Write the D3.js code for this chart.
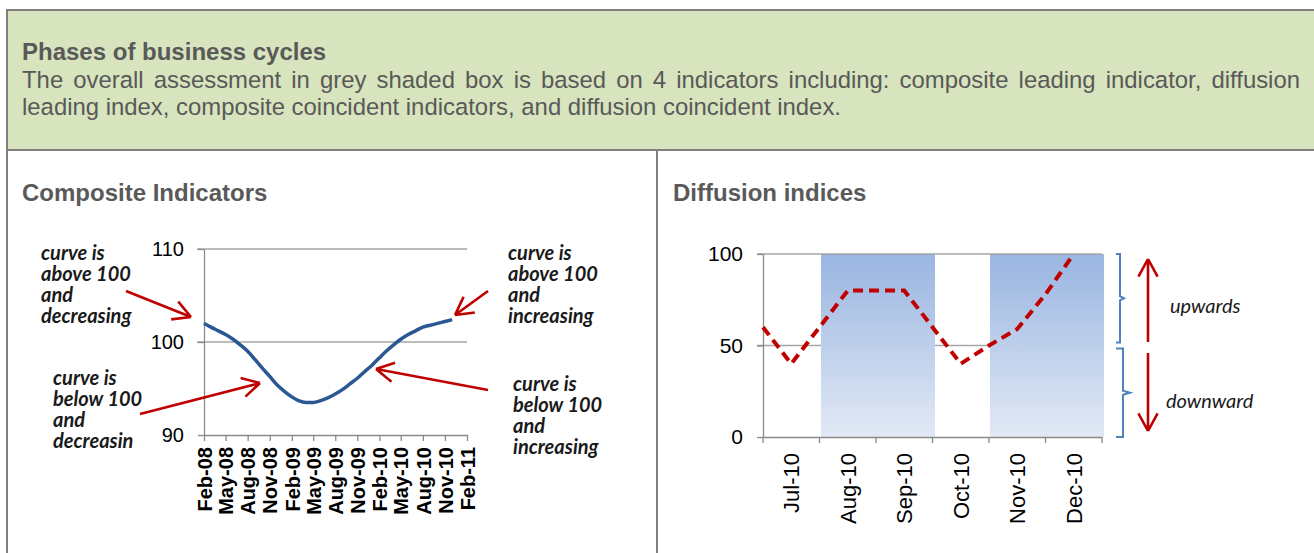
<!DOCTYPE html>
<html lang="en">
<head>
    <meta charset="UTF-8">
    <title>Phases of business cycles</title>
    <script src="https://d3js.org/d3.v7.min.js"></script>
    <style>
        body {
            margin: 0;
            background: #fff;
            font-family: "Liberation Sans", Arial, sans-serif;
        }
        .frame { stroke: #7f7f7f; stroke-width: 2px; }
        .head { fill: #595959; }
        .axis path, .axis line { stroke: #8a8a8a; stroke-width: 1.3px; }
        .axis text { fill: #000; font-family: "Liberation Sans", Arial, sans-serif; }
        .grid { stroke: #a6a6a6; stroke-width: 1.3px; }
        .note { font-family: Lato, "DejaVu Sans", sans-serif; font-size: 20px; font-style: italic; fill: #1a1a1a; }
        .red { stroke: #c00000; stroke-width: 2.6px; fill: none; }
    </style>
</head>
<body>
<svg id="page" width="1314" height="553"></svg>
<script>
    // header texts
    const title = "Phases of business cycles";
    const bodyLines = [
        "The overall assessment in grey shaded box is based on 4 indicators including: composite leading indicator, diffusion",
        "leading index, composite coincident indicators, and diffusion coincident index."
    ];
    const panelTitles = ["Composite Indicators", "Diffusion indices"];

    // composite indicator, monthly from Feb-08
    const compStart = new Date(2008, 1, 1);
    const compValues = [102.0, 101.6, 101.2, 100.8, 100.3, 99.7, 99.0, 98.1, 97.2, 96.3,
        95.4, 94.7, 94.1, 93.7, 93.5, 93.5, 93.7, 94.0, 94.4, 94.9,
        95.5, 96.1, 96.8, 97.5, 98.3, 99.0, 99.7, 100.3, 100.8, 101.2,
        101.6, 101.8, 102.0, 102.2, 102.4];
    const compTicks = [90, 100, 110];

    // diffusion index, half-month steps from start of Jul-10
    const diffMonths = ["Jul-10", "Aug-10", "Sep-10", "Oct-10", "Nov-10", "Dec-10"];
    const diffValues = [60, 40, 60, 80, 80, 80, 60, 40, 50, 59, 78, 100];
    const shadedMonths = ["Aug-10", "Sep-10", "Nov-10", "Dec-10"];
    const diffTicks = [0, 50, 100];

    const leftNotes = [
        ["curve is", "above 100", "and", "decreasing"],
        ["curve is", "below 100", "and", "decreasin"],
        ["curve is", "above 100", "and", "increasing"],
        ["curve is", "below 100", "and", "increasing"]
    ];

    const svg = d3.select("#page");

    // frame
    svg.append("rect").attr("x", 7).attr("y", 10).attr("width", 1310).attr("height", 140)
        .attr("fill", "#d7e4bd");
    svg.append("line").attr("class", "frame").attr("x1", 6).attr("x2", 1314).attr("y1", 10).attr("y2", 10);
    svg.append("line").attr("class", "frame").attr("x1", 7).attr("x2", 7).attr("y1", 10).attr("y2", 553);
    svg.append("line").attr("class", "frame").attr("x1", 6).attr("x2", 1314).attr("y1", 150).attr("y2", 150);
    svg.append("line").attr("class", "frame").attr("x1", 657).attr("x2", 657).attr("y1", 150).attr("y2", 553);

    // header
    svg.append("text").attr("class", "head").attr("x", 22).attr("y", 60)
        .style("font-size", "24px").style("font-weight", "bold").text(title);
    bodyLines.forEach((s, i) => {
        const t = svg.append("text").attr("class", "head").attr("x", 22).attr("y", 88 + i * 27)
            .style("font-size", "23.9px").text(s);
        if (i === 0) {
            const w = t.node().getComputedTextLength();
            const gaps = s.split(" ").length - 1;
            t.attr("word-spacing", (1278 - w) / gaps);
        }
    });
    panelTitles.forEach((s, i) => {
        svg.append("text").attr("class", "head").attr("x", i ? 673 : 22).attr("y", 201)
            .style("font-size", "24px").style("font-weight", "bold").text(s);
    });

    // ---- left chart: composite indicators
    const x1 = d3.scaleTime().domain([compStart, new Date(2011, 1, 1)]).range([204, 467]);
    const y1 = d3.scaleLinear().domain([90, 110]).range([435, 249]);
    const compData = compValues.map((v, i) => ({ d: d3.timeMonth.offset(compStart, i), v }));

    svg.append("g").selectAll("line").data([100, 110]).join("line")
        .attr("class", "grid").attr("x1", 197).attr("x2", 467)
        .attr("y1", d => y1(d)).attr("y2", d => y1(d));

    const yAx1 = svg.append("g").attr("class", "axis").attr("transform", "translate(204,0)")
        .call(d3.axisLeft(y1).tickValues(compTicks).tickSize(6).tickPadding(14).tickSizeOuter(0));
    yAx1.selectAll("text").style("font-size", "20px");

    const xAx1 = svg.append("g").attr("class", "axis").attr("transform", "translate(0,435)")
        .call(d3.axisBottom(x1)
            .tickValues(d3.timeMonth.range(compStart, new Date(2011, 1, 2), 3))
            .tickFormat(d3.timeFormat("%b-%y")).tickSize(6).tickSizeOuter(0));
    xAx1.selectAll("text")
        .attr("transform", "rotate(-90)").attr("x", -12).attr("y", 0).attr("dy", "0.36em")
        .style("text-anchor", "end").style("font-size", "20px").style("font-weight", "bold");

    svg.append("path").datum(compData)
        .attr("fill", "none").attr("stroke", "#2b5793").attr("stroke-width", 3.5)
        .attr("d", d3.line().x(d => x1(d.d)).y(d => y1(d.v)).curve(d3.curveMonotoneX));

    // annotation texts
    const noteSpots = [[41, 260], [53, 385], [508, 260], [513, 391]];
    leftNotes.forEach((lines, i) => {
        const t = svg.append("text").attr("class", "note").style("font-weight", "bold")
            .attr("x", noteSpots[i][0]).attr("y", noteSpots[i][1]);
        lines.forEach((s, j) => {
            t.append("tspan").attr("x", noteSpots[i][0]).attr("y", noteSpots[i][1] + j * 21).text(s);
        });
    });

    function arrow(x0, yA, x1p, yB, len = 20) {
        const a = Math.atan2(yB - yA, x1p - x0);
        const p = d3.path();
        p.moveTo(x0, yA); p.lineTo(x1p, yB);
        [-0.5, 0.5].forEach(da => {
            p.moveTo(x1p - len * Math.cos(a + da), yB - len * Math.sin(a + da));
            p.lineTo(x1p, yB);
        });
        svg.append("path").attr("class", "red").attr("d", p.toString());
    }
    arrow(126, 291, 191, 317);
    arrow(140, 414, 260, 383);
    arrow(488, 291, 455, 315);
    arrow(488, 390, 376, 369);

    // ---- right chart: diffusion indices
    const x2 = d3.scaleBand().domain(diffMonths).range([763, 1102]);
    const xs = d3.scaleLinear().domain([0, diffMonths.length]).range([763, 1102]);
    const y2 = d3.scaleLinear().domain([0, 100]).range([437, 254]);

    const grad = svg.append("defs").append("linearGradient").attr("id", "shade")
        .attr("x1", 0).attr("x2", 0).attr("y1", 0).attr("y2", 1);
    grad.append("stop").attr("offset", 0).attr("stop-color", "#99b5e1");
    grad.append("stop").attr("offset", 1).attr("stop-color", "#e2e9f5");

    svg.append("line").attr("class", "grid").attr("x1", 757).attr("x2", 1102)
        .attr("y1", y2(50)).attr("y2", y2(50));

    svg.append("g").attr("shape-rendering", "crispEdges")
        .selectAll("rect").data(shadedMonths).join("rect")
        .attr("x", d => x2(d) + 1).attr("width", x2.bandwidth() + 1)
        .attr("y", y2(100)).attr("height", y2(0) - y2(100))
        .attr("fill", "url(#shade)");

    svg.append("line").attr("class", "grid").attr("x1", 757).attr("x2", 1102)
        .attr("y1", y2(100)).attr("y2", y2(100));

    const yAx2 = svg.append("g").attr("class", "axis").attr("transform", "translate(763,0)")
        .call(d3.axisLeft(y2).tickValues(diffTicks).tickSize(6).tickPadding(14).tickSizeOuter(0));
    yAx2.selectAll("text").style("font-size", "21px");

    const xAx2 = svg.append("g").attr("class", "axis").attr("transform", "translate(0,437)")
        .call(d3.axisBottom(x2).tickSize(0).tickSizeOuter(0));
    xAx2.selectAll("text")
        .attr("transform", "rotate(-90)").attr("x", -16).attr("y", 0).attr("dy", "0.36em")
        .style("text-anchor", "end").style("font-size", "22px");
    xAx2.selectAll(".edge").data(d3.range(diffMonths.length + 1)).join("line")
        .attr("class", "edge").attr("x1", d => xs(d)).attr("x2", d => xs(d))
        .attr("y1", 0).attr("y2", 6);

    svg.append("path").datum(diffValues)
        .attr("fill", "none").attr("stroke", "#c00000").attr("stroke-width", 4)
        .attr("stroke-dasharray", "10,6")
        .attr("d", d3.line().x((d, i) => xs(i / 2)).y(d => y2(d)));

    // brackets
    const br = svg.append("g").attr("fill", "none").attr("stroke", "#4f81bd").attr("stroke-width", 2);
    [[50, 100, 1120, 4], [0, 50, 1123, 7]].forEach(([lo, hi, bx, tip]) => {
        const top = y2(hi) + (hi === 100 ? 0 : 3), bot = y2(lo) - (hi === 100 ? 3 : 0);
        const mid = (top + bot) / 2;
        br.append("path").attr("d",
            `M1116,${top} H${bx} V${mid - 2} L${bx + tip},${mid} L${bx},${mid + 2} V${bot} H1116`);
    });

    arrow(1148, 342, 1148, 259);
    arrow(1148, 353, 1148, 431);
    svg.append("text").attr("class", "note").attr("x", 1170).attr("y", 313).text("upwards");
    svg.append("text").attr("class", "note").attr("x", 1166).attr("y", 408).text("downward");
</script>
</body>
</html>
